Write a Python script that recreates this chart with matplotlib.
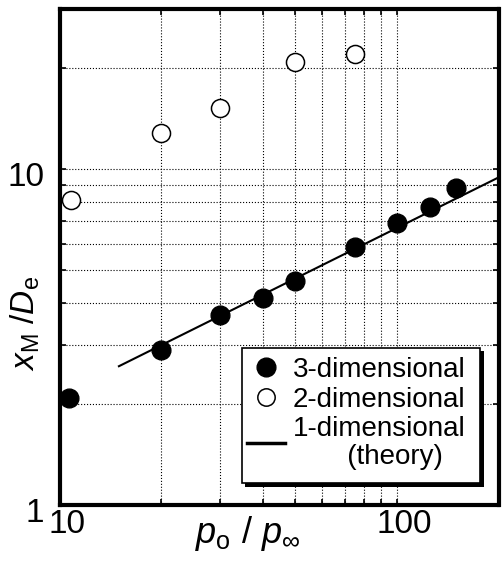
import matplotlib
matplotlib.use('Agg')
import matplotlib.pyplot as plt
from matplotlib.ticker import FixedLocator, NullFormatter, FixedFormatter
from matplotlib.patches import Rectangle
from matplotlib.lines import Line2D
import matplotlib.transforms as mtransforms

plt.rcParams['font.family'] = ['Liberation Sans', 'DejaVu Sans']
plt.rcParams['mathtext.fontset'] = 'custom'
plt.rcParams['mathtext.rm'] = 'Liberation Sans'
plt.rcParams['mathtext.it'] = 'Liberation Sans:italic'
plt.rcParams['mathtext.bf'] = 'Liberation Sans:bold'

# ---- data ----
pressure_ratio_3d = [10.7, 20, 30, 40, 50, 75, 100, 125, 150]
xm_de_3d = [2.08, 2.89, 3.68, 4.13, 4.65, 5.88, 6.93, 7.70, 8.77]
pressure_ratio_2d = [10.8, 20, 30, 50, 75]
xm_de_2d = [8.09, 12.8, 15.2, 20.8, 22.0]
pressure_ratio_1d = [15, 200]
xm_de_1d = [2.59, 9.45]

x_major = [10, 100]
x_major_labels = ['10', '100']
x_minor = [20, 30, 40, 50, 60, 70, 80, 90]
y_major = [1, 10]
y_major_labels = ['1', '10']
y_minor = [2, 3, 4, 5, 6, 7, 8, 9, 20]
legend_labels = ['3-dimensional', '2-dimensional', '1-dimensional\n       (theory)']

# ---- figure ----
W, H = 503, 563
fig = plt.figure(figsize=(W / 100, H / 100), dpi=100)
L, R, T, B = 59.5, 498.5, 9, 505
ax = fig.add_axes([L / W, 1 - B / H, (R - L) / W, (B - T) / H])
ax.set_xscale('log')
ax.set_yscale('log')

ax.plot(pressure_ratio_1d, xm_de_1d, color='k', lw=1.5, zorder=2)
ax.plot(pressure_ratio_3d, xm_de_3d, 'o', ls='none', ms=13.5, mfc='k', mec='k',
        zorder=3, clip_on=False)
ax.plot(pressure_ratio_2d, xm_de_2d, 'o', ls='none', ms=13, mfc='white', mec='k',
        mew=1.1, zorder=3, clip_on=False)

ax.set_xlim(10, 200)
ax.set_ylim(1, 30)

ax.xaxis.set_major_locator(FixedLocator(x_major))
ax.xaxis.set_major_formatter(FixedFormatter(x_major_labels))
ax.xaxis.set_minor_locator(FixedLocator(x_minor))
ax.xaxis.set_minor_formatter(NullFormatter())
ax.yaxis.set_major_locator(FixedLocator(y_major))
ax.yaxis.set_major_formatter(FixedFormatter(y_major_labels))
ax.yaxis.set_minor_locator(FixedLocator(y_minor))
ax.yaxis.set_minor_formatter(NullFormatter())

ax.tick_params(which='both', direction='in', top=True, right=True,
               length=4, width=1.2, color='k', labelsize=24)
ax.tick_params(axis='x', which='major', pad=3)
ax.tick_params(axis='y', which='major', pad=11)
ax.grid(which='both', color='k', ls=':', lw=0.8)
ax.set_axisbelow(True)
for s in ax.spines.values():
    s.set_linewidth(3)
    s.set_zorder(6)

# tick label offsets
off_x = mtransforms.ScaledTranslation(7.5 / 100, 0, fig.dpi_scale_trans)
off_y = mtransforms.ScaledTranslation(0, -4.5 / 100, fig.dpi_scale_trans)
for t in ax.xaxis.get_major_ticks():
    t.label1.set_transform(t.label1.get_transform() + off_x)
for t in ax.yaxis.get_major_ticks():
    t.label1.set_transform(t.label1.get_transform() + off_y)

# axis labels
ax.set_xlabel(r'$p_{\mathrm{o}}$ / $p_{\infty}$', fontsize=26)
ax.xaxis.set_label_coords((247.5 - L) / (R - L), (B - 543) / (B - T))
ax.xaxis.label.set_va('baseline')
ax.set_ylabel(r'$x_{\mathrm{M}}$ /$D_{\mathrm{e}}$', fontsize=24)
ax.yaxis.set_label_coords((35 - L) / (R - L), (B - 323.5) / (B - T))
ax.yaxis.label.set_va('baseline')

# legend box with shadow
bx0, by0, bx1, by1 = 241.7, 347.7, 480, 483
sh = 3.5
shadow = Rectangle(((bx0 + sh) / W, 1 - (by1 + sh) / H), (bx1 - bx0) / W, (by1 - by0) / H,
                   transform=fig.transFigure, fc='k', ec='k', lw=0, zorder=4)
box = Rectangle((bx0 / W, 1 - by1 / H), (bx1 - bx0) / W, (by1 - by0) / H,
                transform=fig.transFigure, fc='white', ec='k', lw=1.2, zorder=4.1)
ax.add_patch(shadow)
ax.add_patch(box)

handles = [
    Line2D([], [], marker='o', ls='none', ms=13.5, mfc='k', mec='k'),
    Line2D([], [], marker='o', ls='none', ms=12.5, mfc='white', mec='k', mew=1.1),
    Line2D([], [], color='k', lw=2.5),
]
leg = ax.legend(handles, legend_labels, loc='upper left',
                bbox_to_anchor=(247 / W, 1 - 357 / H), bbox_transform=fig.transFigure,
                frameon=False, borderpad=0, borderaxespad=0, handlelength=1.37,
                handletextpad=0.29, labelspacing=0.13, fontsize=20)
leg.set_zorder(5)
leg.get_texts()[2].set_linespacing(1.07)

fig.savefig('out.png', dpi=100)
